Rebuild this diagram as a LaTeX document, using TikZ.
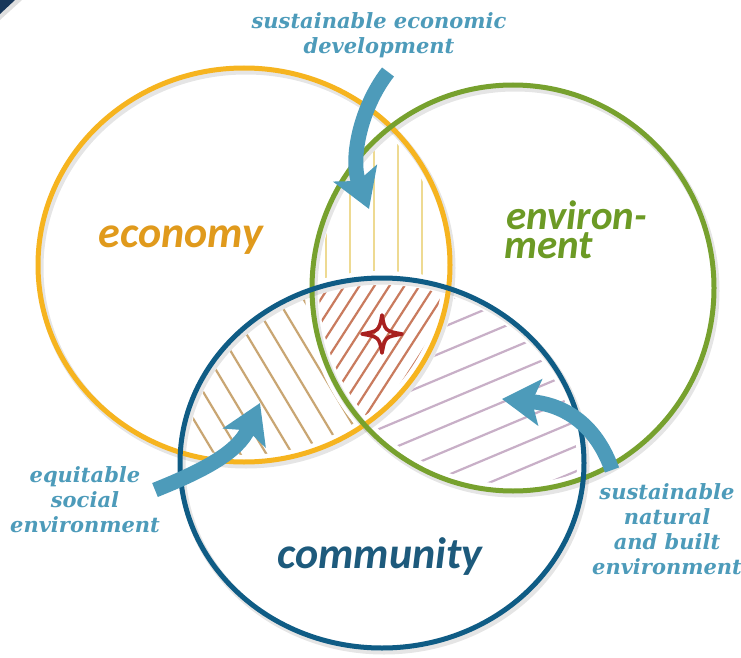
\documentclass[tikz,border=0pt]{standalone}
\usepackage{fontspec}
\usetikzlibrary{arrows.meta}
\newfontfamily\wordfont{Carlito}
\newfontfamily\labelfont{DejaVu Serif}

\definecolor{econ}{HTML}{F6B41F}
\definecolor{econtext}{HTML}{E09A1C}
\definecolor{envi}{HTML}{77A12E}
\definecolor{envitext}{HTML}{6C9A25}
\definecolor{comm}{HTML}{0F5C85}
\definecolor{commtext}{HTML}{1D5A7C}
\definecolor{arrowblue}{HTML}{4D9BBA}
\definecolor{hatchA}{HTML}{EEDA92}
\definecolor{hatchB}{HTML}{C9A673}
\definecolor{hatchC}{HTML}{C8AFC7}
\definecolor{hatchD}{HTML}{C97B5E}
\definecolor{starred}{HTML}{A8201F}
\definecolor{corner}{HTML}{17375A}

% the three circles
\def\econpath{(244,265) ellipse[x radius=206pt, y radius=197pt]}
\def\envipath{(513,288) ellipse[x radius=201pt, y radius=203pt]}
\def\commpath{(382,463) ellipse[x radius=202pt, y radius=185pt]}
\def\outside{(-50,-50) rectangle (800,720)}

\tikzset{
  ring/.style={line width=5pt},
  ringshadow/.style={black, opacity=0.10, line width=7pt, shift={(2,3)}},
  gap/.style={white, line width=14pt},
  hatchline/.style={line width=2.2pt},
  bigarrow/.style={arrowblue, line width=15pt,
    -{Stealth[length=38pt, width=46pt, inset=8pt]}},
  lbl/.style={text=arrowblue, font=\labelfont\bfseries\itshape\fontsize{21}{25}\selectfont, align=center},
  word/.style={font=\wordfont\bfseries\itshape\fontsize{44}{30}\selectfont, inner sep=0pt},
  smallword/.style={font=\wordfont\bfseries\itshape\fontsize{41}{30}\selectfont, inner sep=0pt}
}

\begin{document}
\begin{tikzpicture}[x=1pt, y=-1pt]
\useasboundingbox[fill=white] (0,0) rectangle (741,658);

% corner tab
\fill[gray!25] (0,0) -- (22,0) -- (0,20) -- cycle;
\fill[corner] (0,0) -- (15,0) -- (0,14) -- cycle;

% economy and environment only: vertical lines
\begin{scope}
  \clip \econpath;
  \clip \envipath;
  \begin{scope}[even odd rule]
    \clip \outside \commpath;
    \foreach \x in {326,350,...,446}
      \draw[hatchA, hatchline] (\x,80) -- (\x,320);
  \end{scope}
\end{scope}

% economy and community only
\begin{scope}
  \clip \econpath;
  \clip \commpath;
  \begin{scope}[even odd rule]
    \clip \outside \envipath;
    \foreach \x in {40,66,...,400}
      \draw[hatchB, hatchline] (\x,250) -- ++(150,250);
  \end{scope}
\end{scope}

% environment and community only
\begin{scope}
  \clip \envipath;
  \clip \commpath;
  \begin{scope}[even odd rule]
    \clip \outside \econpath;
    \foreach \y in {262,287,...,640}
      \draw[hatchC, hatchline] (360,\y) -- ++(300,-126);
  \end{scope}
\end{scope}

% all three
\begin{scope}
  \clip \econpath;
  \clip \envipath;
  \clip \commpath;
  \foreach \x in {200,215,...,470}
    \draw[hatchD, hatchline] (\x,440) -- ++(120,-186);
\end{scope}

% white margins round the rings
\draw[gap] \econpath;
\draw[gap] \envipath;
\draw[gap] \commpath;

% soft shadows under the rings
\draw[ringshadow] \econpath;
\draw[ringshadow] \envipath;
\draw[ringshadow] \commpath;

% the rings
\draw[econ, ring] \econpath;
\draw[envi, ring] \envipath;
\draw[comm, ring] \commpath;

% centre star
\draw[starred, line width=3.6pt, line join=round]
  (382,315) .. controls (385,331) .. (402,334)
  .. controls (385,337) .. (382,353)
  .. controls (379,337) .. (362,334)
  .. controls (379,331) .. cycle;

% arrows
\coordinate (a1s) at (388,72);
\coordinate (a1e) at (369,209);
\coordinate (a2s) at (155,490);
\coordinate (a2e) at (260,403);
\coordinate (a3s) at (612,470);
\coordinate (a3e) at (502,399);
\draw[bigarrow] (a1s) .. controls (360,108) and (350,160) .. (a1e);
\draw[bigarrow] (a2s) .. controls (205,470) and (238,452) .. (a2e);
\draw[bigarrow] (a3s) .. controls (598,430) and (570,405) .. (a3e);

% labels
\node[lbl] (sed) at (379,35) {sustainable economic\\development};
\node[lbl] (ese) at (85,500) {equitable\\social\\environment};
\node[lbl] (snb) at (667,529) {sustainable\\natural\\and built\\environment};

% circle names
\node[word, text=econtext] (econw) at (181,240) {economy};
\node[smallword, text=envitext, anchor=base west] (enviw) at (506,229) {environ-};
\node[smallword, text=envitext, anchor=base west] (enviw2) at (504,258) {ment};
\node[word, text=commtext] (commw) at (380,557) {community};
\end{tikzpicture}
\end{document}
